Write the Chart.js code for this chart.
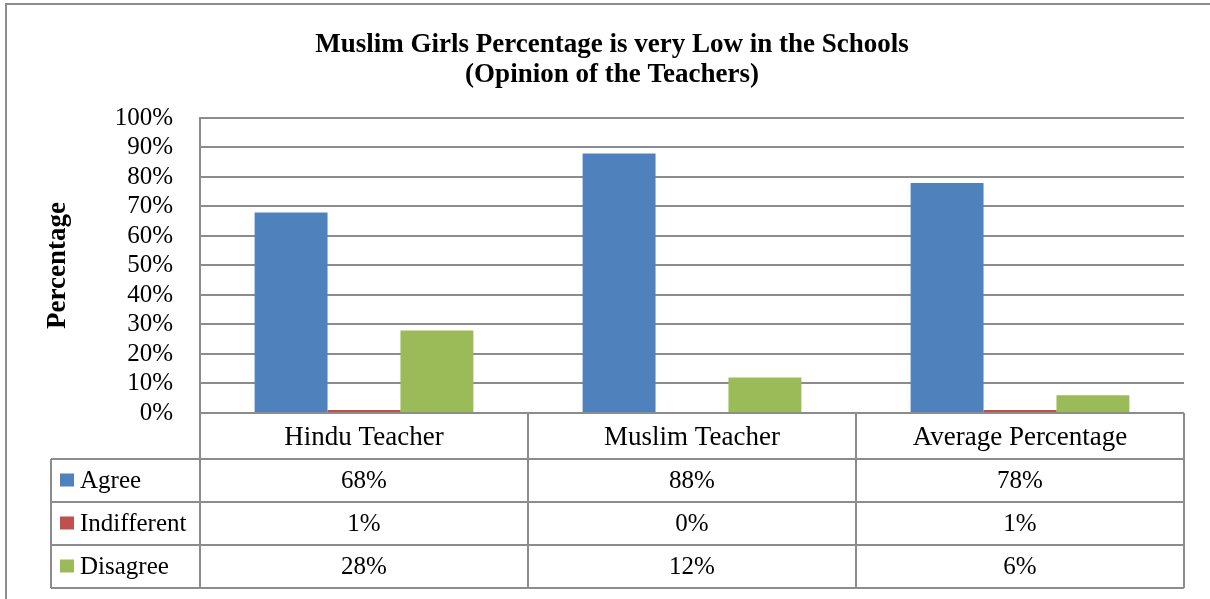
<!DOCTYPE html>
<html>
<head>
<meta charset="utf-8">
<title>Muslim Girls Percentage is very Low in the Schools</title>
<script src="https://cdn.jsdelivr.net/npm/chart.js@4"></script>
<style>
    html, body { margin: 0; padding: 0; background: #fff; }
    .chart-box { position: relative; width: 1210px; height: 599px; }
</style>
</head>
<body>
<div class="chart-box">
    <canvas id="opinionChart"></canvas>
</div>
<script>
// Survey results (percent of teachers)
const categories = ['Hindu Teacher', 'Muslim Teacher', 'Average Percentage'];
const seriesNames = ['Agree', 'Indifferent', 'Disagree'];
const agree = [68, 88, 78];
const indifferent = [1, 0, 1];
const disagree = [28, 12, 6];
const seriesColors = ['#4F81BD', '#C0504D', '#9BBB59'];

const FONT = "'Liberation Serif', 'Times New Roman', serif";
const LINE = '#8c8c8c';

// Data table under the plot: category header row plus one row per series
const dataTable = {
    id: 'dataTable',
    afterDraw(chart) {
        const ctx = chart.ctx;
        const area = chart.chartArea;
        const xs = chart.scales.x;
        const headerH = 46;
        const rowH = 43;
        const legendLeft = 51;
        const top = area.bottom;
        const bodyTop = top + headerH;
        const datasets = chart.data.datasets;
        const bottom = bodyTop + rowH * datasets.length;

        // column edges between categories
        const edges = [area.left];
        for (let i = 0; i < categories.length - 1; i++) {
            edges.push((xs.getPixelForValue(i) + xs.getPixelForValue(i + 1)) / 2);
        }
        edges.push(area.right);

        ctx.save();
        ctx.strokeStyle = LINE;
        ctx.lineWidth = 2;
        ctx.beginPath();
        // header top (category axis line)
        ctx.moveTo(area.left, top);
        ctx.lineTo(area.right, top);
        // row lines
        for (let r = 0; r <= datasets.length; r++) {
            const y = bodyTop + r * rowH;
            ctx.moveTo(legendLeft, y);
            ctx.lineTo(area.right, y);
        }
        // vertical lines
        ctx.moveTo(legendLeft, bodyTop);
        ctx.lineTo(legendLeft, bottom);
        edges.forEach(x => {
            ctx.moveTo(x, top);
            ctx.lineTo(x, bottom);
        });
        ctx.stroke();

        ctx.fillStyle = '#000';
        ctx.textBaseline = 'middle';
        ctx.textAlign = 'center';
        ctx.font = '27px ' + FONT;
        categories.forEach((c, i) => {
            ctx.fillText(c, xs.getPixelForValue(i), top + headerH / 2 + 2);
        });

        ctx.font = '25px ' + FONT;
        datasets.forEach((ds, r) => {
            const cy = bodyTop + r * rowH + rowH / 2;
            ctx.fillStyle = ds.backgroundColor;
            ctx.fillRect(60, cy - 7, 14, 13);
            ctx.fillStyle = '#000';
            ctx.textAlign = 'left';
            ctx.fillText(ds.label, 80, cy + 1);
            ctx.textAlign = 'center';
            ds.data.forEach((v, i) => {
                ctx.fillText(v + '%', xs.getPixelForValue(i), cy + 1);
            });
        });

        // chart frame (top and left edges)
        ctx.beginPath();
        ctx.moveTo(6, chart.height + 2);
        ctx.lineTo(6, 4);
        ctx.lineTo(chart.width + 2, 4);
        ctx.stroke();
        ctx.restore();
    }
};

const ctx = document.getElementById('opinionChart');
new Chart(ctx, {
    type: 'bar',
    data: {
        labels: categories,
        datasets: [
            { label: seriesNames[0], data: agree, backgroundColor: seriesColors[0] },
            { label: seriesNames[1], data: indifferent, backgroundColor: seriesColors[1] },
            { label: seriesNames[2], data: disagree, backgroundColor: seriesColors[2] }
        ]
    },
    options: {
        responsive: true,
        maintainAspectRatio: false,
        animation: false,
        layout: {
            padding: { left: 40, right: 26, top: 30, bottom: 186 }
        },
        datasets: {
            bar: { categoryPercentage: 0.667, barPercentage: 1 }
        },
        plugins: {
            legend: { display: false },
            tooltip: { enabled: false },
            title: {
                display: true,
                text: ['Muslim Girls Percentage is very Low in the Schools', '(Opinion of the Teachers)'],
                color: '#000',
                font: { family: FONT, size: 27, weight: 'bold', lineHeight: 1.111 },
                padding: { top: 0, bottom: 28 }
            }
        },
        scales: {
            x: { display: false },
            y: {
                min: 0,
                max: 100,
                afterFit(scale) { scale.width = 160; },
                ticks: {
                    stepSize: 10,
                    autoSkip: false,
                    color: '#000',
                    padding: 27,
                    font: { family: FONT, size: 25 },
                    callback: v => v + '%'
                },
                grid: { color: LINE, lineWidth: 2, drawTicks: false },
                border: { display: true, color: LINE, width: 2 },
                title: {
                    display: true,
                    text: 'Percentage',
                    color: '#000',
                    font: { family: FONT, size: 27, weight: 'bold', lineHeight: 1 },
                    padding: { top: 5, bottom: 0 }
                }
            }
        }
    },
    plugins: [dataTable]
});
</script>
</body>
</html>
